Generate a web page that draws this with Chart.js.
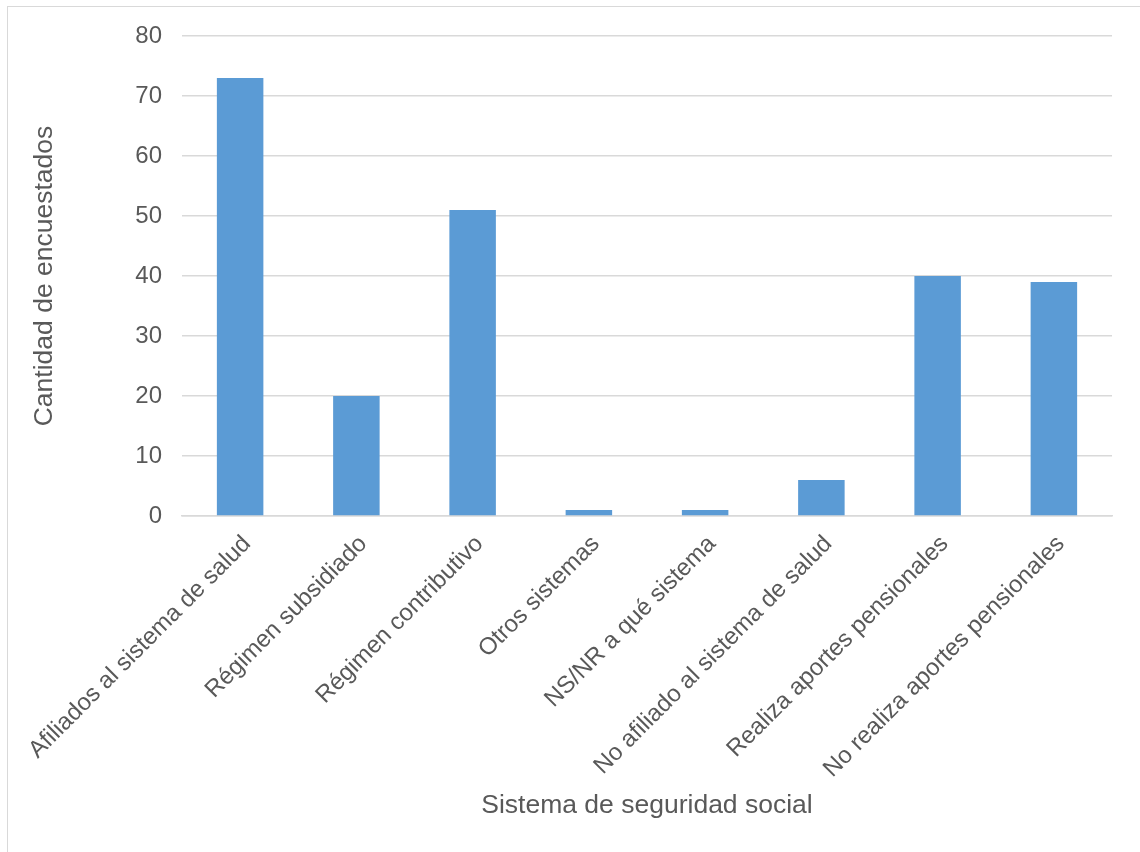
<!DOCTYPE html>
<html>
<head>
<meta charset="utf-8">
<script src="https://cdn.jsdelivr.net/npm/chart.js@4"></script>
<style>
  html, body { margin: 0; padding: 0; background: #ffffff; }
  #okvir { position: absolute; left: 0; top: 0; width: 1140px; height: 852px; }
  #rob { position: absolute; left: 7px; top: 6px; width: 1200px; height: 900px; border: 1px solid #d9d9d9; }
</style>
</head>
<body>
<div id="rob"></div>
<div id="okvir"><canvas id="graf" width="1140" height="852"></canvas></div>
<script>
const kategorije = [
    'Afiliados al sistema de salud',
    'Régimen subsidiado',
    'Régimen contributivo',
    'Otros sistemas',
    'NS/NR a qué sistema',
    'No afiliado al sistema de salud',
    'Realiza aportes pensionales',
    'No realiza aportes pensionales'
];
const vrednosti = [73, 20, 51, 1, 1, 6, 40, 39];
const y_oznake = [0, 10, 20, 30, 40, 50, 60, 70, 80];

let barva_stolpca = '#5b9bd5';
let barva_crt = '#d9d9d9';
let barva_pisave = '#595959';
let font = '"Liberation Sans", Arial, sans-serif';

const platno = document.getElementById('graf').getContext('2d');
const graf = new Chart(platno, {
    type: 'bar',
    data: {
        labels: kategorije,
        datasets: [{
            label: 'Cantidad',
            data: vrednosti,
            backgroundColor: barva_stolpca,
            borderWidth: 0,
            barPercentage: 0.4,
            categoryPercentage: 1
        }]
    },
    options: {
        responsive: false,
        animation: false,
        layout: { padding: { left: 20, right: 28, top: 36, bottom: 20 } },
        plugins: {
            legend: { display: false },
            tooltip: { enabled: false }
        },
        scales: {
            x: {
                afterFit: (s) => { s.height = 316; },
                grid: { display: false, drawTicks: false },
                border: { display: true, color: barva_crt, width: 1.5 },
                ticks: {
                    autoSkip: false,
                    minRotation: 45,
                    maxRotation: 45,
                    padding: 14,
                    labelOffset: 7,
                    color: barva_pisave,
                    font: { size: 24, family: font }
                },
                title: {
                    display: true,
                    text: 'Sistema de seguridad social',
                    color: barva_pisave,
                    font: { size: 26.5, family: font },
                    padding: { top: 0, bottom: 10 }
                }
            },
            y: {
                min: 0,
                max: 80,
                afterFit: (s) => { s.width = 162; },
                afterBuildTicks: (s) => { s.ticks = y_oznake.map(v => ({ value: v })); },
                grid: { color: barva_crt, lineWidth: 1.5, drawTicks: false },
                border: { display: false },
                ticks: {
                    padding: 20,
                    color: barva_pisave,
                    font: { size: 24, family: font }
                },
                title: {
                    display: true,
                    text: 'Cantidad de encuestados',
                    color: barva_pisave,
                    font: { size: 26.5, family: font },
                    padding: { top: 9, bottom: 0 }
                }
            }
        }
    }
});
</script>
</body>
</html>
